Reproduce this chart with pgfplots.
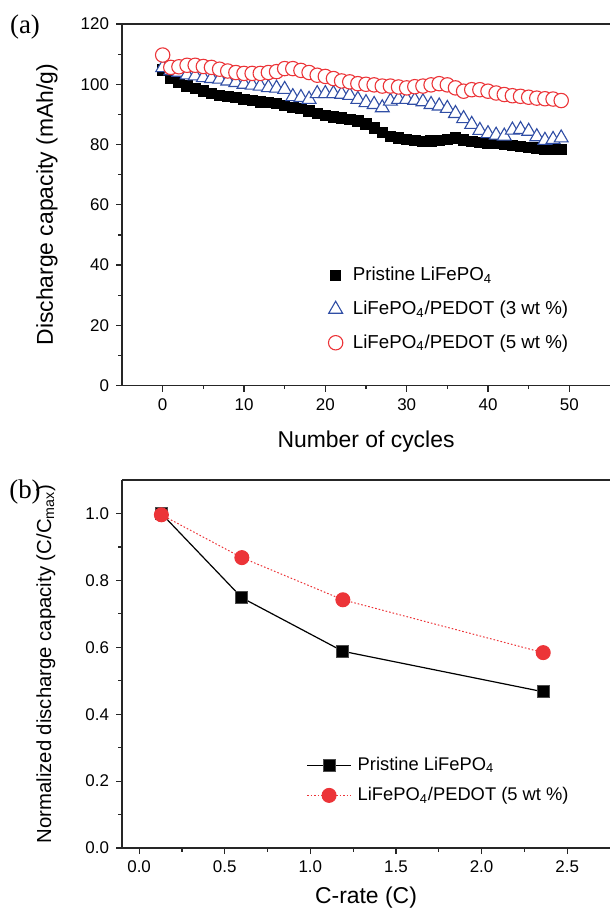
\documentclass[border=0pt]{standalone}
\usepackage{fontspec}
\setmainfont{Liberation Sans}
\newfontfamily\panelfont{Liberation Serif}
\usepackage{pgfplots}
\pgfplotsset{compat=1.18}

\definecolor{cred}{RGB}{236,52,56}
\definecolor{cblue}{RGB}{48,78,165}

\pgfplotsset{
  panel/.style={
    scale only axis,
    width=244bp,
    axis x line*=box,
    axis y line*=left,
    xtick pos=bottom,
    ytick pos=left,
    axis line style={line width=0.75bp, black!85},
    tick style={line width=0.6bp, black!85},
    tick align=outside,
    major tick length=3bp,
    minor tick length=1.8bp,
    tick label style={font=\fontsize{8.5}{9.5}\selectfont},
    /pgf/number format/assume math mode=true,
    label style={font=\fontsize{11.5}{13}\selectfont},
    clip=false,
  },
}

\begin{document}
\begin{tikzpicture}
\path[use as bounding box] (0,0) rectangle (305bp,-456bp);

% (a) cycling
\begin{axis}[panel,
  at={(61bp,-12bp)}, anchor=north west,
  height=180.8bp,
  xmin=-5, xmax=55, ymin=0, ymax=120,
  xtick={0,10,20,30,40,50},
  ytick={0,20,40,60,80,100,120},
  minor x tick num=1, minor y tick num=1,
  xlabel={Number of cycles},
  ylabel={Discharge capacity (mAh/g)},
  xlabel style={at={(axis description cs:0.5,-0.155)}, anchor=center},
  ylabel style={at={(axis description cs:-0.154,0.5)}, anchor=center},
  legend style={at={(0.41,0.35)}, anchor=north west, draw=none, fill=none,
    font=\fontsize{9.4}{11}\selectfont, row sep=4.5bp, column sep=3bp},
  legend cell align=left,
]
\addplot[only marks, mark=square*, mark size=2.6bp, mark options={fill=black, draw=black}] coordinates {
(0,104.8) (1,101.9) (2,100.8) (3,99.4) (4,98.6) (5,97.8) (6,97.0) (7,96.3) (8,95.9) (9,95.6)
(10,95.0) (11,94.7) (12,94.2) (13,93.9) (14,93.6) (15,93.0) (16,92.4) (17,91.9) (18,91.1) (19,90.3)
(20,89.7) (21,89.2) (22,88.9) (23,88.3) (24,87.8) (25,86.8) (26,85.5) (27,84.0) (28,82.8) (29,82.2)
(30,81.7) (31,81.3) (32,81.1) (33,81.2) (34,81.3) (35,81.8) (36,82.2) (37,81.5) (38,81.1) (39,80.8)
(40,80.6) (41,80.3) (42,80.0) (43,79.7) (44,79.4) (45,79.1) (46,78.9) (47,78.6) (48,78.3) (49,78.3)};
\addplot[only marks, mark=triangle*, mark size=4bp, mark options={fill=white, draw=cblue, line width=0.55bp}] coordinates {
(0,105.5) (1,104.5) (2,104.0) (3,103.1) (4,102.8) (5,102.2) (6,101.9) (7,101.7) (8,101.1) (9,100.6)
(10,100.0) (11,99.7) (12,99.4) (13,98.9) (14,98.7) (15,98.3) (16,95.9) (17,95.6) (18,95.0) (19,96.9)
(20,96.9) (21,96.9) (22,96.7) (23,96.3) (24,95.0) (25,93.9) (26,93.3) (27,92.2) (28,94.4) (29,95.0)
(30,95.0) (31,94.7) (32,94.2) (33,93.3) (34,92.8) (35,92.0) (36,90.3) (37,88.6) (38,86.7) (39,84.7)
(40,83.6) (41,83.1) (42,82.8) (43,84.8) (44,85.0) (45,84.4) (46,82.6) (47,81.4) (48,81.7) (49,82.2)};
\addplot[only marks, mark=*, mark size=3.6bp, mark options={fill=white, draw=cred, line width=0.55bp}] coordinates {
(0,109.7) (1,105.6) (2,105.8) (3,106.3) (4,106.3) (5,105.9) (6,105.6) (7,105.0) (8,104.4) (9,103.9)
(10,103.6) (11,103.6) (12,103.6) (13,103.9) (14,104.2) (15,105.2) (16,105.2) (17,104.6) (18,103.9) (19,103.0)
(20,102.6) (21,101.9) (22,101.1) (23,100.8) (24,100.2) (25,100.0) (26,99.8) (27,99.4) (28,99.4) (29,99.1)
(30,98.8) (31,99.2) (32,99.4) (33,99.8) (34,100.2) (35,99.8) (36,98.8) (37,97.7) (38,98.2) (39,98.2)
(40,97.7) (41,97.1) (42,96.6) (43,96.2) (44,96.0) (45,95.7) (46,95.4) (47,95.2) (48,95.1) (49,94.6)};
\legend{Pristine LiFePO\textsubscript{4},
  LiFePO\textsubscript{4}/PEDOT (3 wt \%),
  LiFePO\textsubscript{4}/PEDOT (5 wt \%)}
\end{axis}

% (b) rate capability
\begin{axis}[panel,
  at={(61bp,-240bp)}, anchor=north west,
  height=184bp,
  xmin=-0.1, xmax=2.75, ymin=0, ymax=1.1,
  xtick={0,0.5,1,1.5,2,2.5},
  ytick={0,0.2,0.4,0.6,0.8,1},
  minor x tick num=1, minor y tick num=1,
  xticklabel style={/pgf/number format/.cd, fixed, fixed zerofill, precision=1},
  yticklabel style={/pgf/number format/.cd, fixed, fixed zerofill, precision=1},
  xlabel={C-rate (C)},
  ylabel={Normalized discharge capacity (C/C\textsubscript{max})},
  xlabel style={at={(axis description cs:0.5,-0.136)}, anchor=center},
  ylabel style={at={(axis description cs:-0.156,0.5)}, anchor=center,
    font=\fontsize{10.2}{12}\selectfont},
  legend style={at={(0.365,0.27)}, anchor=north west, draw=none, fill=none,
    font=\fontsize{9.2}{11}\selectfont, row sep=3bp, column sep=1bp},
  legend cell align=left,
  legend image code/.code={\draw[mark repeat=2, mark phase=2]
    plot coordinates {(0bp,0bp) (11bp,0bp) (22bp,0bp)};},
]
\addplot[black, line width=0.6bp, mark=square*, mark size=3bp,
  mark options={fill=black, draw=black!70}] coordinates {
(0.13,1.0) (0.6,0.748) (1.19,0.588) (2.36,0.467)};
\addplot[cred, line width=0.5bp, dash pattern=on 0.8bp off 1bp, mark=*, mark size=3.5bp,
  mark options={solid, fill=cred, draw=cred}] coordinates {
(0.13,0.996) (0.6,0.868) (1.19,0.742) (2.36,0.584)};
\legend{Pristine LiFePO\textsubscript{4},
  LiFePO\textsubscript{4}/PEDOT (5 wt \%)}
\end{axis}

\node[font=\panelfont\fontsize{13.5}{15}\selectfont] at (12.5bp,-13.5bp) {(a)};
\node[font=\panelfont\fontsize{13.5}{15}\selectfont] at (12.5bp,-246bp) {(b)};
\end{tikzpicture}
\end{document}
